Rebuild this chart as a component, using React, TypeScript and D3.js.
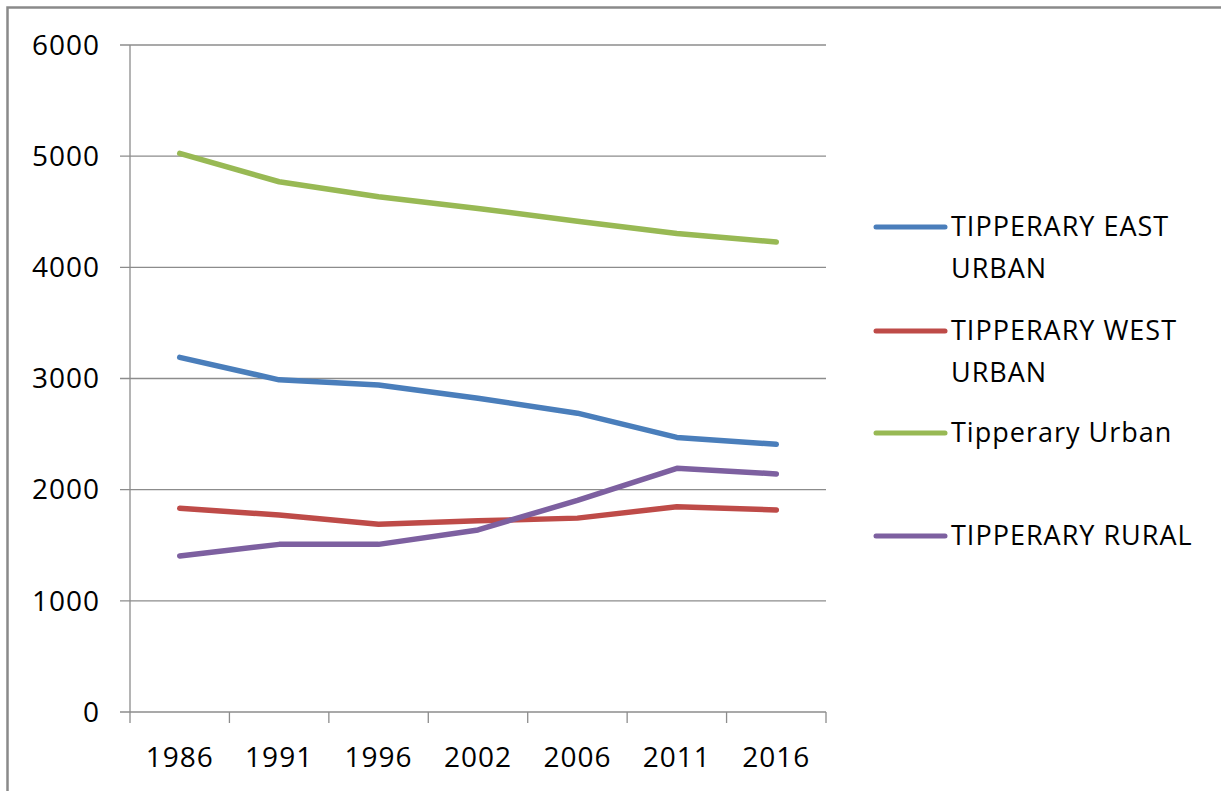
import React, { useEffect, useRef } from "react";
import * as d3 from "d3";

// census years on the category axis
const years = ["1986", "1991", "1996", "2002", "2006", "2011", "2016"];

// values
const eastUrban = [3190, 2988, 2942, 2822, 2688, 2470, 2408];
const westUrban = [1832, 1772, 1688, 1720, 1744, 1846, 1818];
const tipperaryUrban = [5025, 4770, 4635, 4530, 4415, 4305, 4228];
const rural = [1404, 1508, 1508, 1638, 1904, 2192, 2142];

const seriesNames = ["TIPPERARY EAST URBAN", "TIPPERARY WEST URBAN", "Tipperary Urban", "TIPPERARY RURAL"];
const seriesColors = ["#4a7ebb", "#be4b48", "#98b954", "#7d60a0"];
// legend text broken into lines like the original
const legendLines = [["TIPPERARY EAST", "URBAN"], ["TIPPERARY WEST", "URBAN"], ["Tipperary Urban"], ["TIPPERARY RURAL"]];

const yTicks = [0, 1000, 2000, 3000, 4000, 5000, 6000];

export default function App() {
    const ref = useRef<SVGSVGElement>(null);

    useEffect(() => {
        drawChart();
    }, []);

    function drawChart() {
        const svg = d3.select(ref.current);
        svg.selectAll("*").remove();

        const font = "'Open Sans', sans-serif";
        const gridColor = "#8c8c8c";

        const left = 130, right = 826, top = 45, bottom = 712;

        const x = d3.scaleBand<string>()
            .domain(years)
            .range([left, right]);

        const y = d3.scaleLinear()
            .domain([0, 6000])
            .range([bottom, top]);

        // outer frame (only top and left edges are inside the picture)
        svg.append("rect")
            .attr("x", 7.5)
            .attr("y", 7.5)
            .attr("width", 1400)
            .attr("height", 1000)
            .attr("fill", "none")
            .attr("stroke", "#8a8a8a")
            .attr("stroke-width", 2.5);

        // gridlines + y ticks
        svg.append("g")
            .selectAll("line")
            .data(yTicks)
            .enter()
            .append("line")
            .attr("x1", left - 10)
            .attr("x2", right)
            .attr("y1", d => y(d))
            .attr("y2", d => y(d))
            .attr("stroke", gridColor)
            .attr("stroke-width", 1.3);

        svg.append("g")
            .selectAll("text")
            .data(yTicks)
            .enter()
            .append("text")
            .attr("x", 100)
            .attr("y", d => y(d))
            .attr("dy", "0.35em")
            .attr("text-anchor", "end")
            .style("font-family", font)
            .style("font-size", "28px")
            .style("letter-spacing", "1px")
            .attr("fill", "#000")
            .text(d => d);

        // y axis line
        svg.append("line")
            .attr("x1", left)
            .attr("x2", left)
            .attr("y1", top)
            .attr("y2", bottom)
            .attr("stroke", gridColor)
            .attr("stroke-width", 1.3);

        // x axis ticks at band edges
        const edges = years.map(d => x(d) as number).concat([right]);
        svg.append("g")
            .selectAll("line")
            .data(edges)
            .enter()
            .append("line")
            .attr("x1", d => d)
            .attr("x2", d => d)
            .attr("y1", bottom)
            .attr("y2", bottom + 11)
            .attr("stroke", gridColor)
            .attr("stroke-width", 1.3);

        svg.append("g")
            .selectAll("text")
            .data(years)
            .enter()
            .append("text")
            .attr("x", d => (x(d) as number) + x.bandwidth() / 2)
            .attr("y", 767)
            .attr("text-anchor", "middle")
            .style("font-family", font)
            .style("font-size", "28px")
            .style("letter-spacing", "1px")
            .attr("fill", "#000")
            .text(d => d);

        // lines
        const allSeries = [eastUrban, westUrban, tipperaryUrban, rural];
        const line = d3.line<number>()
            .x((d, i) => (x(years[i]) as number) + x.bandwidth() / 2)
            .y(d => y(d));

        allSeries.forEach((values, i) => {
            svg.append("path")
                .datum(values)
                .attr("d", line)
                .attr("fill", "none")
                .attr("stroke", seriesColors[i])
                .attr("stroke-width", 5.5)
                .attr("stroke-linecap", "round")
                .attr("stroke-linejoin", "round");
        });

        // legend
        const legendY = [227, 331, 433, 536];
        const lineGap = 42;
        seriesNames.forEach((name, i) => {
            const g = svg.append("g").attr("class", "legend-item").attr("data-name", name);
            g.append("line")
                .attr("x1", 876)
                .attr("x2", 945)
                .attr("y1", legendY[i])
                .attr("y2", legendY[i])
                .attr("stroke", seriesColors[i])
                .attr("stroke-width", 5)
                .attr("stroke-linecap", "round");
            legendLines[i].forEach((txt, j) => {
                g.append("text")
                    .attr("x", 951)
                    .attr("y", legendY[i] + j * lineGap)
                    .attr("dy", "0.35em")
                    .style("font-family", font)
                    .style("font-size", "27px")
                    .style("letter-spacing", "1px")
                    .attr("fill", "#000")
                    .text(txt);
            });
        });
    }

    return (
        <svg
            ref={ref}
            width={1221}
            height={791}
            style={{ position: "absolute", left: 0, top: 0, background: "#fff" }}
        />
    );
}
